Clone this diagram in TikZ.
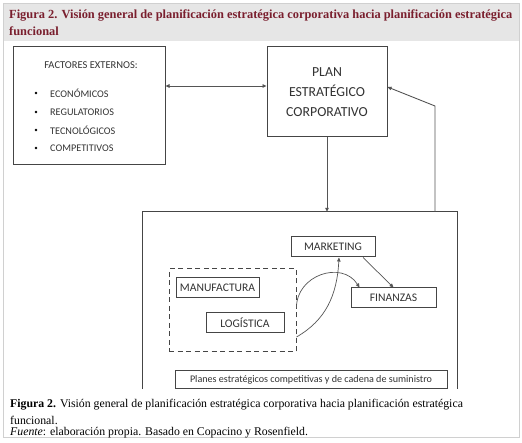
\documentclass[tikz,border=0pt]{standalone}
\usepackage{fontspec}
\setmainfont{Liberation Serif}
\newfontfamily\calfont{Carlito}
\usetikzlibrary{arrows.meta,calc}
\definecolor{titlered}{HTML}{7A1F2E}
\definecolor{headgray}{HTML}{E6E6E6}
\definecolor{framegray}{HTML}{D0D0D0}
\definecolor{boxline}{HTML}{454545}
\definecolor{conn}{HTML}{555555}
\tikzset{
  box/.style={draw=boxline, line width=1pt, inner sep=0pt, font=\calfont},
  conline/.style={draw=conn, line width=0.9pt},
  arr/.style={conline, -{Triangle[length=4pt,width=3.5pt]}},
  darr/.style={conline, {Triangle[length=4pt,width=3.5pt]}-{Triangle[length=4pt,width=3.5pt]}},
  bul/.style={circle, fill=black, inner sep=0pt, minimum size=2.8pt},
  itemtxt/.style={anchor=west, inner sep=0pt, font=\calfont\fontsize{10.2}{12}\selectfont, text=black!80},
  boxtxt/.style={font=\calfont\fontsize{11.6}{14}\selectfont, text=black!80},
}
\begin{document}
\begin{tikzpicture}[x=1pt,y=-1pt]
\useasboundingbox (0,0) rectangle (522,443);
\fill[white] (0,0) rectangle (522,443);
\fill[headgray] (3,3) rectangle (519,41);
\draw[framegray, line width=0.8pt] (3,3) rectangle (519,437);
% title
\node[anchor=west, inner sep=0pt, text=titlered, font=\bfseries\fontsize{12.4}{14}\selectfont] (t1) at (9,16) {Figura 2. Visión general de planificación estratégica corporativa hacia planificación estratégica};
\node[anchor=west, inner sep=0pt, text=titlered, font=\bfseries\fontsize{12.4}{14}\selectfont] (t2) at (9,31) {funcional};
% factores
\node[box, minimum width=152pt, minimum height=118pt] (fact) at (89,106) {};
\node[inner sep=0pt, font=\calfont\fontsize{10.5}{12}\selectfont, text=black!80] (fh) at (91,65) {FACTORES EXTERNOS:};
\node[bul] (b1) at (36,93) {};
\node[bul] (b2) at (36,112) {};
\node[bul] (b3) at (36,130) {};
\node[bul] (b4) at (36,148) {};
\node[itemtxt] (i1) at (50,93) {ECONÓMICOS};
\node[itemtxt] (i2) at (50,112) {REGULATORIOS};
\node[itemtxt] (i3) at (50,130) {TECNOLÓGICOS};
\node[itemtxt] (i4) at (50,148) {COMPETITIVOS};
% plan
\node[box, minimum width=120pt, minimum height=90pt, align=center, font=\calfont\fontsize{13.8}{20}\selectfont, text=black!80] (plan) at (327,92) {PLAN\\ESTRATÉGICO\\CORPORATIVO};
% big box
\node[minimum width=314pt, minimum height=177pt, inner sep=0pt] (big) at (300,300.5) {};
\draw[boxline, line width=1pt] (big.south west) |- (big.north east) -- (big.south east);
% inner boxes
\node[box, boxtxt, minimum width=84pt, minimum height=20pt] (mkt) at (333,247) {MARKETING};
\node[box, boxtxt, minimum width=85pt, minimum height=20pt] (fin) at (393.5,298) {FINANZAS};
\node[box, boxtxt, minimum width=83pt, minimum height=20pt] (man) at (217.5,288) {MANUFACTURA};
\node[box, boxtxt, minimum width=78pt, minimum height=20pt] (log) at (245,323) {LOGÍSTICA};
\node[draw=boxline, line width=1pt, dash pattern=on 5pt off 3.5pt, minimum width=127pt, minimum height=83pt, inner sep=0pt] (dash) at (232.5,310.5) {};
\node[box, minimum width=272pt, minimum height=18pt, font=\calfont\fontsize{10.1}{12}\selectfont, text=black!80] (sup) at (311,380) {Planes estratégicos competitivas y de cadena de suministro};
% connectors
\coordinate (r) at (0,86);
\draw[darr] (fact.east |- r) -- (plan.west |- r);
\draw[arr] (plan.south) -- (plan.south |- big.north);
\coordinate (fb) at (435,106);
\coordinate (fbin) at (0,87);
\draw[arr] (fb |- big.north) -- (fb) -- (plan.east |- fbin);
\draw[arr, line width=0.7pt] ($(mkt.south)+(30,0)$) -- (fin.north);
\draw[arr, line width=0.7pt] (dash.east |- 0,308) .. controls (296,275) and (342,260) .. ($(fin.north west)+(9,0)$);
\draw[arr, line width=0.7pt] (dash.east |- 0,337) .. controls (326,320) and (337,295) .. ($(mkt.south)+(6,0)$);
% caption
\node[anchor=west, inner sep=0pt, font=\fontsize{11.8}{14}\selectfont] (c1) at (10,405) {\textbf{Figura 2.} Visión general de planificación estratégica corporativa hacia planificación estratégica};
\node[anchor=west, inner sep=0pt, font=\fontsize{11.8}{14}\selectfont] (c2) at (10,420) {funcional.};
\node[anchor=west, inner sep=0pt, font=\fontsize{11.8}{14}\selectfont] (c3) at (10,433) {\textit{Fuente}: elaboración propia. Basado en Copacino y Rosenfield.};
\end{tikzpicture}
\end{document}
